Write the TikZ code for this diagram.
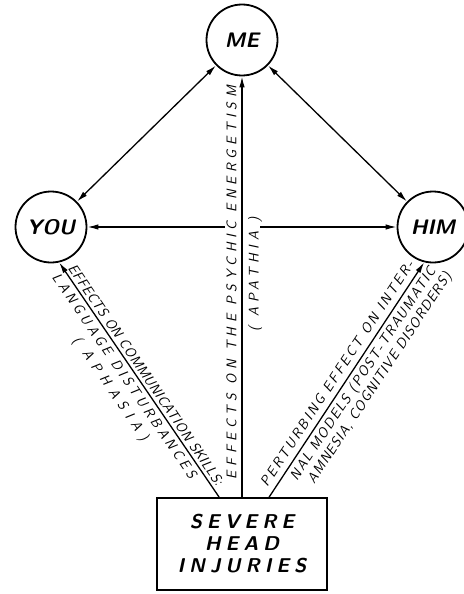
\documentclass[tikz,border=0pt]{standalone}
\usepackage{fontspec}
\setsansfont{Latin Modern Sans}
\usetikzlibrary{arrows.meta,calc}

\newcommand{\spaced}[2]{{\addfontfeature{LetterSpace=#1}#2}}

\tikzset{
    person/.style = {circle, draw, line width=1.8pt, minimum size=71pt, inner sep=0pt,
        font=\sffamily\bfseries\itshape\fontsize{21}{21}\selectfont},
    cause/.style = {draw, line width=1.8pt, minimum width=170pt, minimum height=92pt, align=center,
        font=\sffamily\bfseries\itshape\fontsize{20}{22}\selectfont\addfontfeature{LetterSpace=25}},
    effect/.style = {sloped, inner sep=1pt, text height=10pt, text depth=0pt,
        font=\sffamily\itshape\fontsize{14}{14}\selectfont},
    oneway/.style = {line width=1.3pt, -{Latex[length=11pt,width=5.5pt]}},
    twoway/.style = {line width=1.3pt, {Latex[length=11pt,width=5.5pt]}-{Latex[length=11pt,width=5.5pt]}}
}

\begin{document}
\begin{tikzpicture}[x=1pt, y=-1pt]
    \useasboundingbox (0,0) rectangle (463,594);

    %place the three persons and the cause
        \node[person] (me) at (242,40) {ME};
        \node[person] (you) at (51,227) {YOU};
        \node[person] (him) at (433,227) {HIM};
        \node[cause] (injury) at (242,544) {SEVERE\\HEAD\\INJURIES};

    %relations between the persons
        \draw[twoway] (me) -- (you);
        \draw[twoway] (me) -- (him);

    %effects of the injuries
        \draw[oneway] (injury.north) -- node[effect, allow upside down, above=4pt, pos=.51] (psychic) {\spaced{33}{EFFECTS ON THE PSYCHIC ENERGETISM}}
            node[effect, allow upside down, below=5pt, pos=.53] (apathia) {\spaced{34}{( APATHIA )}} (me.south);
        \draw[oneway] ([xshift=63pt]injury.north west) -- node[effect, above=2pt, pos=.5] (skills) {\spaced{3}{EFFECTS ON COMMUNICATION SKILLS:}}
            node[effect, below=3pt, pos=.54] (language) {\spaced{26}{LANGUAGE DISTURBANCES}}
            node[effect, below=21pt, pos=.53] (aphasia) {\spaced{46}{( APHASIA)}} (you.-77);
        \draw[oneway] ([xshift=113pt]injury.north west) -- node[effect, above=5pt, pos=.5] (inter) {\spaced{17}{PERTURBING EFFECT ON INTER-}}
            node[effect, below=3pt, pos=.55] (models) {\spaced{12}{NAL MODELS (POST-TRAUMATIC}}
            node[effect, below=19pt, pos=.57] (amnesia) {\spaced{7}{AMNESIA, COGNITIVE DISORDERS)}} (him.-104);

    %interrupted line between you and him
        \draw[oneway] (psychic.north |- you.east) -- (you.east);
        \draw[oneway] (apathia.south |- him.west) -- (him.west);
\end{tikzpicture}
\end{document}
